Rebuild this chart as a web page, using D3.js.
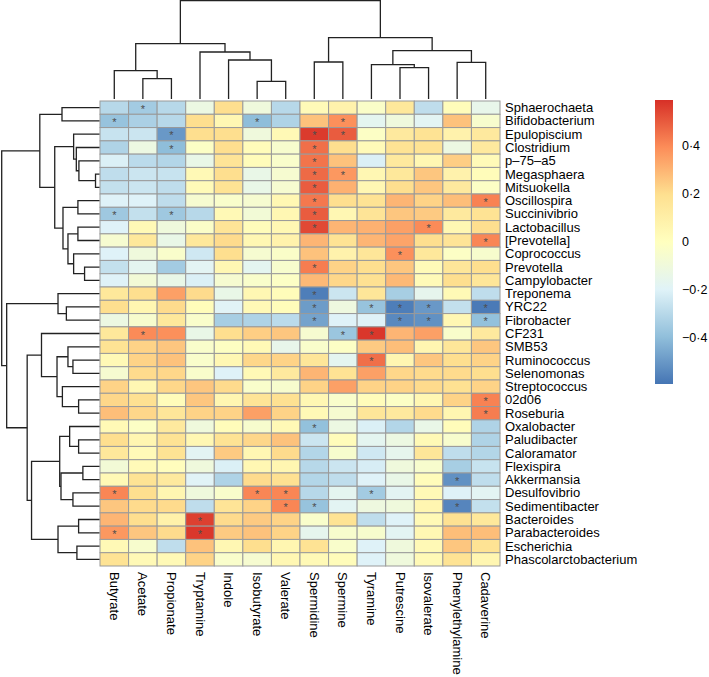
<!DOCTYPE html>
<html><head><meta charset="utf-8">
<script src="https://cdn.jsdelivr.net/npm/d3@7"></script>
<style>body{margin:0;background:#fff}</style>
</head><body>
<svg id="chart" width="709" height="677"></svg>
<script>
const taxa = ["Sphaerochaeta","Bifidobacterium","Epulopiscium","Clostridium","p\u201375\u2013a5","Megasphaera","Mitsuokella","Oscillospira","Succinivibrio","Lactobacillus","[Prevotella]","Coprococcus","Prevotella","Campylobacter","Treponema","YRC22","Fibrobacter","CF231","SMB53","Ruminococcus","Selenomonas","Streptococcus","02d06","Roseburia","Oxalobacter","Paludibacter","Caloramator","Flexispira","Akkermansia","Desulfovibrio","Sedimentibacter","Bacteroides","Parabacteroides","Escherichia","Phascolarctobacterium"];
const metabolites = ["Butyrate","Acetate","Propionate","Tryptamine","Indole","Isobutyrate","Valerate","Spermidine","Spermine","Tyramine","Putrescine","Isovalerate","Phenylethylamine","Cadaverine"];
const values = [
[-0.30,-0.35,-0.30,-0.12,0.20,-0.10,-0.30,0.03,0.08,-0.03,0.15,-0.28,0.02,-0.15],
[-0.38,-0.33,-0.30,0.20,0.05,-0.40,-0.32,0.27,0.39,-0.17,-0.10,-0.18,0.27,-0.05],
[-0.26,-0.25,-0.50,0.20,0.20,-0.10,0.04,0.57,0.50,-0.02,0.14,0.18,0.08,0.14],
[-0.32,-0.12,-0.40,-0.02,0.20,0.02,-0.05,0.46,0.20,0.03,0.18,0.18,-0.12,0.14],
[-0.21,-0.29,-0.31,-0.14,0.17,0.02,-0.04,0.45,0.27,-0.21,0.14,0.05,0.24,0.03],
[-0.28,-0.25,-0.26,0.04,0.20,-0.14,-0.06,0.47,0.37,0.05,0.15,0.26,0.08,0.02],
[-0.27,-0.25,-0.28,0.03,0.18,-0.14,-0.06,0.50,0.31,0.05,0.20,0.26,0.14,-0.02],
[-0.20,-0.20,-0.28,-0.06,-0.04,-0.06,0.05,0.44,0.20,0.18,0.30,0.23,0.28,0.42],
[-0.36,-0.27,-0.36,-0.30,0.04,-0.08,0.05,0.50,0.05,0.17,0.26,0.25,0.14,0.18],
[-0.20,0.04,-0.10,-0.03,0.17,0.02,0.05,0.54,0.30,0.31,0.35,0.40,0.05,0.20],
[-0.06,0.15,-0.14,0.15,0.21,0.05,0.08,0.30,0.18,0.30,0.34,0.20,0.17,0.41],
[-0.20,-0.10,-0.04,-0.24,0.20,-0.06,-0.03,0.27,0.08,0.16,0.39,0.15,-0.02,-0.05],
[-0.27,-0.17,-0.35,-0.18,0.05,-0.17,-0.05,0.43,0.23,0.20,0.26,0.03,0.16,0.20],
[-0.20,-0.08,-0.14,-0.21,-0.06,-0.04,-0.02,0.29,0.22,0.19,0.29,0.03,0.20,0.16],
[0.15,0.20,0.35,0.21,-0.14,0.05,0.02,-0.57,-0.25,0.16,-0.34,-0.16,0.04,-0.28],
[0.20,0.06,0.21,0.02,-0.19,0.04,0.02,-0.49,-0.11,-0.38,-0.57,-0.50,-0.27,-0.58],
[-0.12,-0.05,0.15,-0.04,-0.34,-0.32,-0.29,-0.47,-0.20,-0.20,-0.54,-0.52,0.05,-0.39],
[0.15,0.40,0.39,-0.14,0.20,0.24,0.26,-0.06,-0.37,0.58,0.30,0.35,-0.04,0.14],
[0.18,0.23,0.26,-0.04,-0.01,0.04,-0.15,-0.04,-0.02,0.25,0.28,0.06,0.16,0.26],
[0.04,0.23,0.27,-0.04,0.05,0.22,0.23,0.16,-0.17,0.46,0.06,0.26,0.20,0.23],
[-0.06,0.21,0.22,-0.04,-0.20,0.04,0.14,0.30,0.18,0.35,0.22,0.21,0.21,0.20],
[0.23,0.05,0.22,0.26,0.21,-0.04,-0.05,0.23,0.35,0.23,0.23,0.21,0.19,0.23],
[0.22,0.19,0.02,0.26,0.06,0.17,0.19,0.05,-0.04,0.02,-0.02,0.05,0.23,0.42],
[0.28,0.22,0.16,0.23,0.23,0.35,0.23,0.04,-0.06,0.16,0.14,0.21,0.06,0.43],
[0.04,-0.02,0.14,-0.10,0.02,-0.05,0.04,-0.39,-0.12,-0.21,-0.31,-0.14,0.02,-0.32],
[0.20,0.06,0.18,0.05,0.18,0.22,0.27,-0.25,0.02,-0.17,-0.12,0.04,-0.05,-0.32],
[0.15,0.03,0.18,-0.18,0.25,0.05,0.21,-0.31,-0.05,-0.24,-0.16,0.16,-0.28,-0.31],
[-0.08,0.03,0.01,-0.10,-0.21,0.05,0.06,-0.30,-0.25,-0.22,-0.10,-0.05,-0.34,-0.26],
[0.04,0.18,0.14,-0.19,-0.32,0.21,0.19,-0.31,-0.28,-0.20,-0.14,0.02,-0.52,-0.28],
[0.41,0.20,0.06,-0.10,-0.04,0.41,0.41,-0.30,-0.17,-0.35,-0.18,0.04,-0.20,-0.18],
[0.26,0.21,0.21,-0.28,0.17,0.23,0.41,-0.38,-0.18,-0.11,-0.10,0.06,-0.55,-0.27],
[0.30,0.20,0.09,0.56,0.21,0.25,0.23,-0.04,0.18,-0.28,-0.20,0.04,0.19,0.15],
[0.37,0.26,0.21,0.58,0.25,0.27,0.23,-0.16,-0.05,-0.05,-0.18,0.05,0.28,0.28],
[0.04,-0.05,-0.28,0.27,0.05,0.20,0.06,0.18,-0.04,-0.20,-0.10,0.04,0.26,0.18],
[0.18,0.04,0.04,0.23,-0.04,-0.06,0.05,0.04,0.02,-0.20,-0.10,0.04,0.18,0.06]
];
// column indices marked significant (*) for each taxon row
const stars = [[1],[0,5,8],[2,7,8],[2,7],[7],[7,8],[7],[7,13],[0,2,7],[7,11],[13],[10],[7],[],[7],[7,9,10,11,13],[7,10,11,13],[1,8,9],[],[9],[],[],[13],[13],[7],[],[],[],[12],[0,5,6,9],[6,7,12],[3],[0,3],[],[]];
// dendrograms: [height, left, right]; leaves are indices in display order
const colTree = [98.3,[55.3,[28.3,0,[20.3,1,2]],[47,3,[39,4,[17.7,5,6]]]],[61.3,[37,7,8],[48.3,[34.3,9,[31.3,10,11]],[36.7,12,13]]]];
const rowTree = [98.3,
  [60,[37.7,0,1],[45,[26,2,[23.3,3,[20.7,4,[4,5,6]]]],[36.7,[21.7,7,8],[31.7,[21.7,9,10],[26,11,[15,12,13]]]]]],
  [93.3,[41.7,14,[33.3,15,16]],
    [72.7,[58.3,17,[42.7,[31.7,18,[26.7,19,20]],[37.3,21,[21,22,23]]]],
      [68.3,[40,[30,24,[21,25,26]],[38.7,[16.7,27,28],[26.7,29,30]]],[41.7,[21,31,32],[22.7,33,34]]]]]];
const legendTicks = [0.4,0.2,0,-0.2,-0.4];
const legendLabels = ["0\u00b74","0\u00b72","0","\u22120\u00b72","\u22120\u00b74"];
const palette = ["#4575B4","#91BFDB","#E0F3F8","#FFFFBF","#FEE090","#FC8D59","#D73027"];
const valueRange = [-0.594,0.594];

const svg = d3.select("#chart");
const font = "'Liberation Sans', Arial, Helvetica, sans-serif";
const L = 100, R = 500, T = 101, B = 566;
const x = d3.scaleBand().domain(d3.range(metabolites.length)).range([L,R]);
const y = d3.scaleBand().domain(d3.range(taxa.length)).range([T,B]);
const stops = d3.range(palette.length).map(i => valueRange[0] + i*(valueRange[1]-valueRange[0])/(palette.length-1));
const color = d3.scaleLinear().domain(stops).range(palette).interpolate(d3.interpolateRgb).clamp(true);

// cells
const cells = [];
values.forEach((row,i)=>row.forEach((v,j)=>cells.push({i,j,v})));
svg.append("g").selectAll("rect").data(cells).join("rect")
  .attr("x",d=>x(d.j)).attr("y",d=>y(d.i))
  .attr("width",x.bandwidth()).attr("height",y.bandwidth())
  .attr("fill",d=>color(d.v)).attr("stroke","#9a9a9a").attr("stroke-width",1);

// stars
const starData = [];
stars.forEach((cols,i)=>cols.forEach(j=>starData.push({i,j})));
svg.append("g").selectAll("text").data(starData).join("text")
  .attr("x",d=>x(d.j)+x.bandwidth()/2).attr("y",d=>y(d.i)+y.bandwidth()/2+5)
  .attr("text-anchor","middle").attr("font-family",font).attr("font-size",11)
  .attr("fill","#4d4d4d").text("*");

// dendrogram layout
function layout(node, posOf){
  if(typeof node === "number") return {pos:posOf(node), h:0, segs:[]};
  const a = layout(node[1],posOf), b = layout(node[2],posOf);
  const segs = a.segs.concat(b.segs);
  segs.push({p1:a.pos,h1:a.h,p2:b.pos,h2:b.h,h:node[0]});
  return {pos:(a.pos+b.pos)/2, h:node[0], segs};
}
const colLay = layout(colTree, j => x(j)+x.bandwidth()/2);
const hc = d3.scaleLinear().domain([0,colTree[0]]).range([99,0.7]);
svg.append("g").selectAll("path").data(colLay.segs).join("path")
  .attr("d",s=>`M${s.p1},${hc(s.h1)}V${hc(s.h)}H${s.p2}V${hc(s.h2)}`)
  .attr("fill","none").attr("stroke","#222").attr("stroke-width",1.3);

const rowLay = layout(rowTree, i => y(i)+y.bandwidth()/2);
const hr = d3.scaleLinear().domain([0,rowTree[0]]).range([99.5,1.7]);
svg.append("g").selectAll("path").data(rowLay.segs).join("path")
  .attr("d",s=>`M${hr(s.h1)},${s.p1}H${hr(s.h)}V${s.p2}H${hr(s.h2)}`)
  .attr("fill","none").attr("stroke","#222").attr("stroke-width",1.3);

// row labels
svg.append("g").selectAll("text").data(taxa).join("text")
  .attr("x",R+5).attr("y",(d,i)=>y(i)+y.bandwidth()/2)
  .attr("dominant-baseline","central").attr("font-family",font).attr("font-size",13)
  .attr("fill","#000").text(d=>d);

// column labels
svg.append("g").selectAll("text").data(metabolites).join("text")
  .attr("transform",(d,j)=>`translate(${x(j)+x.bandwidth()/2},${B+6}) rotate(90)`)
  .attr("dominant-baseline","central").attr("font-family",font).attr("font-size",13)
  .attr("fill","#000").text(d=>d);

// legend
const lg = {x:655, w:18, top:100, bottom:384};
const ly = d3.scaleLinear().domain(valueRange).range([lg.bottom,lg.top]);
const grad = svg.append("defs").append("linearGradient").attr("id","lgrad")
  .attr("x1",0).attr("y1",1).attr("x2",0).attr("y2",0);
stops.forEach((s,k)=>grad.append("stop").attr("offset",k/(stops.length-1)).attr("stop-color",palette[k]));
svg.append("rect").attr("x",lg.x).attr("y",lg.top).attr("width",lg.w).attr("height",lg.bottom-lg.top)
  .attr("fill","url(#lgrad)");
svg.append("g").selectAll("text").data(legendTicks).join("text")
  .attr("x",lg.x+lg.w+9).attr("y",d=>ly(d))
  .attr("dominant-baseline","central").attr("font-family",font).attr("font-size",12.5)
  .attr("fill","#000").text((d,k)=>legendLabels[k]);
</script>
</body></html>
